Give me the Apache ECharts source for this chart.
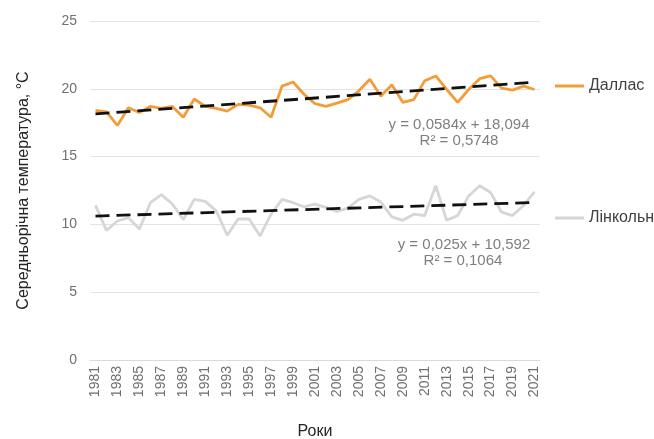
<!DOCTYPE html>
<html>
<head>
<meta charset="utf-8">
<script src="https://cdn.jsdelivr.net/npm/echarts@6/dist/echarts.min.js"></script>
<style>
  html, body { margin: 0; padding: 0; background: #fff; }
  #chart { width: 654px; height: 439px; }
</style>
</head>
<body>
<div id="chart"></div>
<script>
// Annual mean temperature, 1981–2021
const years = [];
for (let y = 1981; y <= 2021; y++) years.push(String(y));

const dallas = [18.4, 18.3, 17.3, 18.6, 18.25, 18.7, 18.55, 18.7, 17.9, 19.25,
  18.7, 18.55, 18.35, 18.85, 18.8, 18.6, 17.9, 20.2, 20.5, 19.6,
  18.9, 18.7, 18.95, 19.2, 19.85, 20.7, 19.45, 20.3, 19.0, 19.2,
  20.6, 20.95, 19.95, 19.0, 19.95, 20.75, 20.95, 20.05, 19.9, 20.2, 19.95];

const lincoln = [11.4, 9.55, 10.25, 10.5, 9.65, 11.6, 12.2, 11.5, 10.35, 11.85,
  11.7, 11.0, 9.2, 10.4, 10.4, 9.15, 10.75, 11.85, 11.6, 11.3,
  11.5, 11.25, 10.95, 11.2, 11.85, 12.1, 11.65, 10.55, 10.3, 10.75,
  10.65, 12.85, 10.3, 10.65, 12.1, 12.85, 12.35, 10.9, 10.65, 11.4, 12.4];

// Linear trend coefficients [slope, intercept, R²] (x = 1..41)
const dallasTrend = [0.0584, 18.094, 0.5748];
const lincolnTrend = [0.025, 10.592, 0.1064];

const yTicks = [0, 5, 10, 15, 20, 25];

function trendLine(t) {
  const n = years.length;
  return [[years[0], t[1] + t[0] * 1], [years[n - 1], t[1] + t[0] * n]];
}
function fmt(v) { return String(v).replace('.', ','); }
function eqLine(t) { return 'y = ' + fmt(t[0]) + 'x + ' + fmt(t[1]); }
function r2Line(t) { return 'R² = ' + fmt(t[2]); }

const chart = echarts.init(document.getElementById('chart'));
const FONT = 'Liberation Sans, Arial, sans-serif';

function note(text, x, y) {
  return {
    type: 'text', x: x, y: y, z: 10,
    style: { text: text, align: 'center', verticalAlign: 'middle',
      fill: '#7f7f7f', font: '15px ' + FONT }
  };
}

const legendText = { color: '#404040', fontSize: 16, fontFamily: FONT };

chart.setOption({
  animation: false,
  textStyle: { fontFamily: FONT },
  grid: { left: 90, right: 114, top: 21, bottom: 79, outerBoundsMode: 'none', containLabel: false },
  legend: [
    {
      data: ['Даллас'], left: 555, top: 78, icon: 'rect', padding: 0,
      itemWidth: 29, itemHeight: 3, itemGap: 4, textStyle: legendText
    },
    {
      data: ['Лінкольн'], left: 555, top: 210, icon: 'rect', padding: 0,
      itemWidth: 29, itemHeight: 3, itemGap: 4, textStyle: legendText
    }
  ],
  xAxis: {
    type: 'category',
    data: years,
    boundaryGap: true,
    name: 'Роки',
    nameLocation: 'middle',
    nameGap: 64,
    nameTextStyle: { color: '#262626', fontSize: 16 },
    axisLine: { show: true, lineStyle: { color: '#d9d9d9' } },
    axisTick: { show: false },
    axisLabel: { interval: 1, rotate: 90, color: '#707070', fontSize: 14, margin: 6 }
  },
  yAxis: {
    type: 'value',
    min: yTicks[0],
    max: yTicks[yTicks.length - 1],
    interval: 5,
    name: 'Середньорічна температура, °С',
    nameLocation: 'middle',
    nameGap: 58,
    nameTextStyle: { color: '#262626', fontSize: 16 },
    axisLine: { show: false },
    axisTick: { show: false },
    axisLabel: { color: '#707070', fontSize: 14, margin: 13 },
    splitLine: { lineStyle: { color: '#e3e3e3', width: 1 } }
  },
  series: [
    {
      name: 'Даллас', type: 'line', data: dallas,
      symbol: 'none', z: 3,
      lineStyle: { color: '#f39c3a', width: 2.8 },
      itemStyle: { color: '#f39c3a' }
    },
    {
      name: 'Лінкольн', type: 'line', data: lincoln,
      symbol: 'none', z: 3,
      lineStyle: { color: '#d6d6d6', width: 2.8 },
      itemStyle: { color: '#d6d6d6' }
    },
    {
      name: 'trend-dallas', type: 'line', data: trendLine(dallasTrend),
      symbol: 'none', z: 4, silent: true,
      lineStyle: { color: '#111', width: 2.8, type: [14, 7] }
    },
    {
      name: 'trend-lincoln', type: 'line', data: trendLine(lincolnTrend),
      symbol: 'none', z: 4, silent: true,
      lineStyle: { color: '#111', width: 2.8, type: [14, 7] }
    }
  ],
  graphic: [
    note(eqLine(dallasTrend), 459, 125),
    note(r2Line(dallasTrend), 459, 141),
    note(eqLine(lincolnTrend), 464, 245),
    note(r2Line(lincolnTrend), 463, 261)
  ]
});
</script>
</body>
</html>
